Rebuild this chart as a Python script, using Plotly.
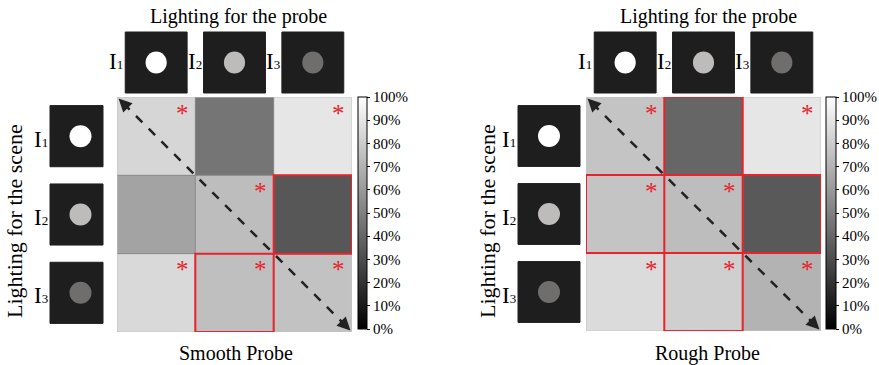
import plotly.graph_objects as go

W, H = 879, 365
MR = 55  # right margin reserved so colorbar labels never push the layout

# ---------------- data ----------------
light_nums = ["1", "2", "3"]
# brightness of the disc in each lighting icon (0-255 gray)
disc_gray = [255, 190, 112]

# percent values, rows = lighting for the scene, cols = lighting for the probe
smooth_vals = [[84, 46, 90],
               [64, 74, 34],
               [85, 75, 76]]
rough_vals = [[77, 40, 90],
              [77, 74, 35],
              [86, 81, 70]]

# significance markers (asterisks)
smooth_sig = [[1, 0, 1],
              [0, 1, 0],
              [1, 1, 1]]
rough_sig = [[1, 0, 1],
             [1, 1, 0],
             [1, 1, 1]]

# red-boxed cells (row, col)
smooth_boxes = [(1, 2), (2, 1)]
rough_boxes = [(0, 1), (1, 0), (1, 2), (2, 1)]

cbar_ticks = list(range(0, 101, 10))

panels = [
    dict(name="Smooth Probe", vals=smooth_vals, sig=smooth_sig, boxes=smooth_boxes,
         xa="x", ya="y", cb_x=358, cb_th=9,
         title_x=239, bottom_x=236, side_x=15, icon_x=(50, 103)),
    dict(name="Rough Probe", vals=rough_vals, sig=rough_sig, boxes=rough_boxes,
         xa="x2", ya="y2", cb_x=826, cb_th=10,
         title_x=708, bottom_x=707, side_x=488, icon_x=(518, 580)),
]

FONT = "Liberation Serif, Times New Roman, serif"
RED = "#e8232b"


def pxx(x):
    return x / (W - MR)


def pyy(y):
    return 1 - y / H


def ilabel(n):
    return f"I<span style='font-size:13px'>{n}</span>"


fig = go.Figure()
shapes = []
annotations = []

for p in panels:
    xa, ya = p["xa"], p["ya"]
    fig.add_trace(go.Heatmap(
        z=p["vals"], x=[0, 1, 2], y=[0, 1, 2],
        zmin=0, zmax=100,
        colorscale=[[0, "black"], [1, "white"]],
        xaxis=xa, yaxis=ya,
        showscale=True,
        hoverinfo="skip",
        colorbar=dict(
            x=pxx(p["cb_x"]), xanchor="left", xpad=0, ypad=0,
            y=pyy(97), yanchor="top", len=232 / H, lenmode="fraction",
            thickness=p["cb_th"], thicknessmode="pixels",
            outlinecolor="black", outlinewidth=1,
            tickmode="array",
            tickvals=cbar_ticks, ticktext=[f"{t}%" for t in cbar_ticks],
            ticks="outside", ticklen=3, tickcolor="black",
            tickfont=dict(family=FONT, size=15, color="black"),
        ),
    ))

    # cell grid lines
    for k in (0.5, 1.5):
        shapes.append(dict(type="line", xref=xa, yref=ya, x0=k, x1=k, y0=-0.5, y1=2.5,
                           line=dict(color="#8a8a8a", width=1)))
        shapes.append(dict(type="line", xref=xa, yref=ya, x0=-0.5, x1=2.5, y0=k, y1=k,
                           line=dict(color="#8a8a8a", width=1)))
    shapes.append(dict(type="rect", xref=xa, yref=ya, x0=-0.5, x1=2.5, y0=-0.5, y1=2.5,
                       line=dict(color="#c4c4c4", width=1)))

    # red boxes
    for (r, c) in p["boxes"]:
        shapes.append(dict(type="rect", xref=xa, yref=ya, x0=c - 0.5, x1=c + 0.5,
                           y0=r - 0.5, y1=r + 0.5, line=dict(color=RED, width=2)))

    # asterisks
    for r in range(3):
        for c in range(3):
            if p["sig"][r][c]:
                annotations.append(dict(x=c + 0.33, y=r - 0.33, xref=xa, yref=ya,
                                        text="*", showarrow=False,
                                        font=dict(family=FONT, size=25, color=RED),
                                        xanchor="center", yanchor="middle", yshift=-3))

    # dashed diagonal with arrowheads at both ends
    shapes.append(dict(type="line", xref=xa, yref=ya, x0=-0.42, y0=-0.42, x1=2.42, y1=2.42,
                       line=dict(color="#222222", width=2.5, dash="dash")))
    for tip, tail in ((-0.48, -0.34), (2.48, 2.34)):
        annotations.append(dict(x=tip, y=tip, ax=tail, ay=tail, xref=xa, yref=ya,
                                axref=xa, ayref=ya, text="", showarrow=True,
                                arrowhead=2, arrowsize=1.2, arrowwidth=2.2,
                                arrowcolor="#222222", standoff=0))

    # top icons (lighting for the probe)
    for c in range(3):
        shapes.append(dict(type="rect", xref=xa, yref="paper", x0=c - 0.395, x1=c + 0.395,
                           y0=pyy(93), y1=pyy(32), fillcolor="#1e1e1e",
                           line=dict(color="#1e1e1e", width=1)))
        g = disc_gray[c]
        gb = g - 3 if g < 255 else g
        shapes.append(dict(type="circle", xref=xa, yref="paper", x0=c - 0.135, x1=c + 0.135,
                           y0=pyy(73.5), y1=pyy(51.5), fillcolor=f"rgb({g},{gb},{gb})",
                           line=dict(width=0)))
        annotations.append(dict(x=c - 0.395, y=pyy(62), xref=xa, yref="paper",
                                text=ilabel(light_nums[c]), showarrow=False, xanchor="right",
                                yanchor="middle", xshift=0,
                                font=dict(family=FONT, size=23, color="black")))

    # side icons (lighting for the scene)
    ix0, ix1 = p["icon_x"]
    for r in range(3):
        shapes.append(dict(type="rect", xref="paper", yref=ya, x0=pxx(ix0), x1=pxx(ix1),
                           y0=r - 0.39, y1=r + 0.39, fillcolor="#1e1e1e",
                           line=dict(color="#1e1e1e", width=1)))
        g = disc_gray[r]
        gb = g - 3 if g < 255 else g
        cx = (ix0 + ix1) / 2 + (4 if ix1 - ix0 < 58 else 0)
        shapes.append(dict(type="circle", xref="paper", yref=ya, x0=pxx(cx - 11), x1=pxx(cx + 11),
                           y0=r - 0.14, y1=r + 0.14,
                           fillcolor=f"rgb({g},{gb},{gb})",
                           line=dict(width=0)))
        annotations.append(dict(x=pxx(ix0), y=r, xref="paper", yref=ya,
                                text=ilabel(light_nums[r]), showarrow=False, xanchor="right",
                                yanchor="middle", xshift=0, yshift=-3,
                                font=dict(family=FONT, size=23, color="black")))

    # titles
    annotations.append(dict(x=pxx(p["title_x"]), y=pyy(16), xref="paper", yref="paper",
                            text="Lighting for the probe", showarrow=False,
                            xanchor="center", yanchor="middle",
                            font=dict(family=FONT, size=20, color="black")))
    annotations.append(dict(x=pxx(p["bottom_x"]), y=pyy(353), xref="paper", yref="paper",
                            text=p["name"], showarrow=False,
                            xanchor="center", yanchor="middle",
                            font=dict(family=FONT, size=20, color="black")))
    annotations.append(dict(x=pxx(p["side_x"]), y=pyy(221), xref="paper", yref="paper",
                            text="Lighting for the scene", showarrow=False, textangle=-90,
                            xanchor="center", yanchor="middle",
                            font=dict(family=FONT, size=22, color="black")))

axis_common = dict(showgrid=False, zeroline=False, showticklabels=False, ticks="",
                   showline=False, fixedrange=True)

fig.update_layout(
    width=W, height=H,
    margin=dict(l=0, r=MR, t=0, b=0),
    font=dict(family=FONT, color="black"),
    paper_bgcolor="white", plot_bgcolor="white",
    showlegend=False,
    xaxis=dict(domain=[pxx(117), pxx(352)], range=[-0.5, 2.5], anchor="y", **axis_common),
    yaxis=dict(domain=[pyy(332), pyy(97)], range=[2.5, -0.5], anchor="x", **axis_common),
    xaxis2=dict(domain=[pxx(586), pxx(821)], range=[-0.5, 2.5], anchor="y2", **axis_common),
    yaxis2=dict(domain=[pyy(331), pyy(97)], range=[2.5, -0.5], anchor="x2", **axis_common),
    shapes=shapes,
    annotations=annotations,
)

fig.write_html("out.html", config={"displayModeBar": False},
               post_script="document.body.style.margin='0';document.body.style.overflow='hidden';")
